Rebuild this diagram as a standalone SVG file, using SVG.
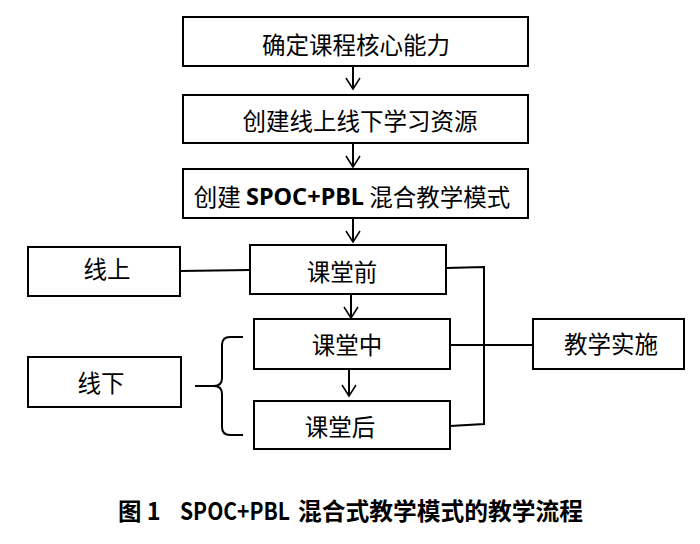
<svg xmlns="http://www.w3.org/2000/svg" width="700" height="544" viewBox="0 0 700 544">
<defs>
<style>
.box{fill:#fff;stroke:#000;stroke-width:2}
.t{font-family:"Noto Sans CJK SC","Noto Sans",sans-serif;font-size:23.5px;fill:#000;text-anchor:middle;dominant-baseline:central}
.lat{font-family:"Noto Sans","Noto Sans CJK SC",sans-serif;font-weight:bold}
.ln{fill:none;stroke:#000;stroke-width:2}
.cap{font-family:"Noto Sans CJK SC","Noto Sans",sans-serif;font-size:23.5px;font-weight:bold;fill:#000;dominant-baseline:central}
</style>
<marker id="ah" markerWidth="14" markerHeight="16" refX="12" refY="8" orient="auto" markerUnits="userSpaceOnUse" viewBox="0 0 14 16">
<path d="M1,1 L12,8 L1,15" fill="none" stroke="#000" stroke-width="1.5"/>
</marker>
</defs>
<rect width="700" height="544" fill="#fff"/>
<g id="connectors">
<line class="ln" x1="353" y1="66" x2="353" y2="89" marker-end="url(#ah)"/>
<line class="ln" x1="353" y1="143" x2="353" y2="167" marker-end="url(#ah)"/>
<line class="ln" x1="353" y1="218" x2="353" y2="242" marker-end="url(#ah)"/>
<line class="ln" x1="351" y1="294" x2="351" y2="318" marker-end="url(#ah)"/>
<line class="ln" x1="349" y1="369" x2="349" y2="396" marker-end="url(#ah)"/>
<line class="ln" x1="180" y1="271" x2="250" y2="270"/>
<path class="ln" d="M446,268 L484,267 L484,424 L450,426"/>
<line class="ln" x1="450" y1="345" x2="533" y2="345"/>
<path class="ln" d="M243,337 L230,337 Q222,337 222,345 L222,378 Q222,386 214,386 L195,386 M214,386 Q222,386 222,394 L222,427 Q222,435 230,435 L243,435"/>
</g>
<g id="n1"><rect class="box" x="183" y="17" width="345" height="49"/><text class="t" x="356" y="44">确定课程核心能力</text></g>
<g id="n2"><rect class="box" x="183" y="95" width="345" height="48"/><text class="t" x="360" y="120">创建线上线下学习资源</text></g>
<g id="n3"><rect class="box" x="183" y="169" width="345" height="49"/><text class="t" x="352" y="196">创建 <tspan class="lat">SPOC+PBL</tspan> 混合教学模式</text></g>
<g id="n4"><rect class="box" x="250" y="245" width="196" height="49"/><text class="t" x="342" y="271">课堂前</text></g>
<g id="n5"><rect class="box" x="254" y="319" width="196" height="50"/><text class="t" x="347" y="344">课堂中</text></g>
<g id="n6"><rect class="box" x="254" y="401" width="196" height="48"/><text class="t" x="340" y="426">课堂后</text></g>
<g id="n7"><rect class="box" x="28" y="247" width="152" height="49"/><text class="t" x="107" y="268">线上</text></g>
<g id="n8"><rect class="box" x="28" y="357" width="153" height="50"/><text class="t" x="101" y="382">线下</text></g>
<g id="n9"><rect class="box" x="533" y="319" width="151" height="50"/><text class="t" x="611" y="343">教学实施</text></g>
<text class="cap" x="118" y="510">图 1<tspan x="180" textLength="110" lengthAdjust="spacingAndGlyphs">SPOC+PBL</tspan><tspan x="298" textLength="285" lengthAdjust="spacingAndGlyphs">混合式教学模式的教学流程</tspan></text>
</svg>
